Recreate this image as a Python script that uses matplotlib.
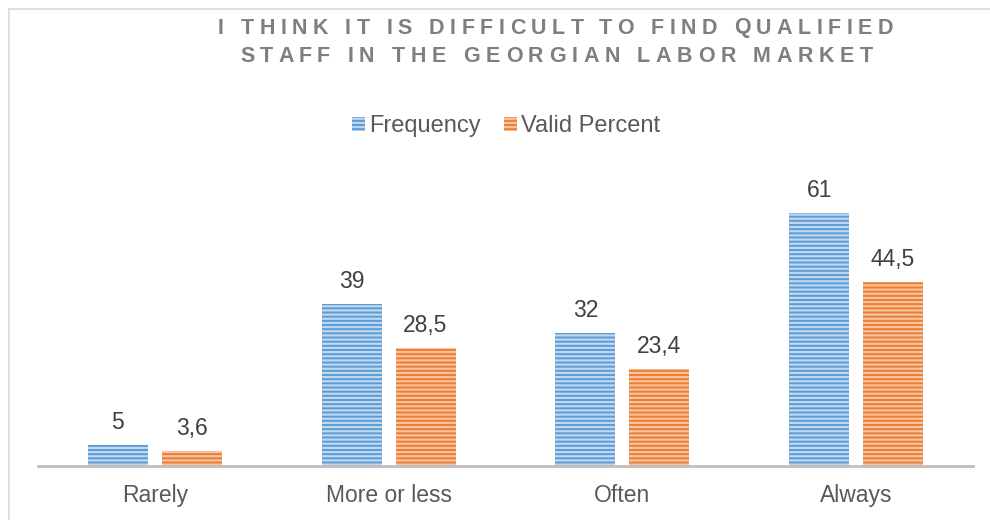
import matplotlib.pyplot as plt
import numpy as np

plt.rcParams['font.family'] = ['Liberation Sans', 'DejaVu Sans']
plt.rcParams['hatch.linewidth'] = 1.6

# дані з графіка
categories = ['Rarely', 'More or less', 'Often', 'Always']
frequency = [5, 39, 32, 61]
valid_percent = [3.6, 28.5, 23.4, 44.5]
freq_labels = ['5', '39', '32', '61']
pct_labels = ['3,6', '28,5', '23,4', '44,5']

title_lines = ['I THINK IT IS DIFFICULT TO FIND QUALIFIED',
               'STAFF IN THE GEORGIAN LABOR MARKET']

fig = plt.figure(figsize=(9.9, 5.2), dpi=100)
ax = fig.add_axes([38 / 990, (520 - 466) / 520, (973 - 38) / 990, 290 / 520])

x = np.arange(len(categories))
w = 0.257
off = 0.158
b1 = ax.bar(x - off, frequency, w, color='#5b9bd5', edgecolor='#bfd8ef',
            linewidth=0, hatch='----', label='Frequency')
b2 = ax.bar(x + off, valid_percent, w, color='#ed7d31', edgecolor='#f7c3a0',
            linewidth=0, hatch='----', label='Valid Percent')

for bars, labs in ((b1, freq_labels), (b2, pct_labels)):
    for b, t in zip(bars, labs):
        ax.annotate(t, (b.get_x() + b.get_width() / 2, b.get_height()),
                    xytext=(0, 8), textcoords='offset points',
                    ha='center', va='bottom', fontsize=16.5, color='#404040')

ax.set_xlim(-0.5, 3.5)
ax.set_ylim(0, 70)
ax.set_yticks([])
ax.set_xticks(x)
ax.set_xticklabels(categories, fontsize=16.5, color='#595959')
ax.tick_params(axis='x', length=0, pad=13)
for s in ('top', 'right', 'left'):
    ax.spines[s].set_visible(False)
ax.spines['bottom'].set_color('#bfbfbf')
ax.spines['bottom'].set_linewidth(2)

# заголовок з розрідженими літерами: кожну літеру ставимо окремо
from matplotlib.font_manager import FontProperties
renderer = fig.canvas.get_renderer()
tprop = FontProperties(family='Liberation Sans', weight='bold', size=15.5)


def text_w(s):
    return renderer.get_text_width_height_descent(s, tprop, ismath=False)[0]


def draw_tracked(s, x_left, x_right, y_px):
    n = len(s)
    base = text_w('|')
    pos = [text_w(s[:i] + '|') - base if i else 0.0 for i in range(n)]
    natural = text_w(s)
    track = (x_right - x_left - natural) / (n - 1)
    for i, ch in enumerate(s):
        if ch == ' ':
            continue
        fig.text((x_left + pos[i] + i * track) / 990, 1 - y_px / 520, ch,
                 fontproperties=tprop, color='#7f7f7f', ha='left', va='center')


draw_tracked(title_lines[0], 218, 893, 28)
draw_tracked(title_lines[1], 240, 873, 57)

fig.legend(handles=[b1, b2], loc='center', bbox_to_anchor=(506 / 990, 1 - 126 / 520),
           ncol=2, frameon=False, fontsize=17, handlelength=0.55, handleheight=0.55,
           handletextpad=0.15, columnspacing=1.0, labelcolor='#595959')

# рамка області діаграми
fig.add_artist(plt.Line2D([9 / 990, 9 / 990], [0, 1 - 9 / 520], color='#d9d9d9', lw=1.2))
fig.add_artist(plt.Line2D([9 / 990, 1], [1 - 9 / 520, 1 - 9 / 520], color='#d9d9d9', lw=1.2))

fig.savefig('out.png')
